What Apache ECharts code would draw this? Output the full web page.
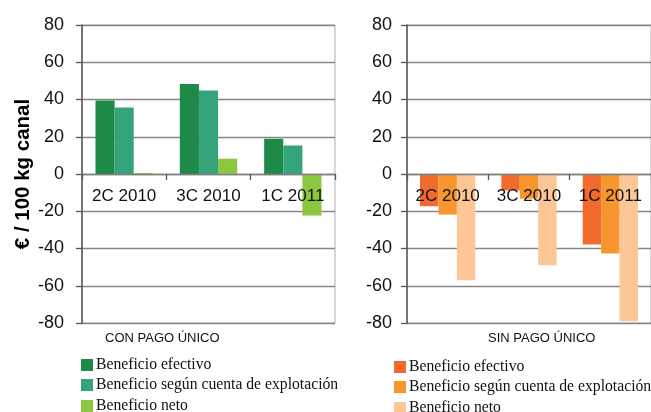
<!DOCTYPE html>
<html>
<head>
<meta charset="utf-8">
<script src="https://cdn.jsdelivr.net/npm/echarts@6/dist/echarts.min.js"></script>
<style>
  html, body { margin: 0; padding: 0; background: #fff; }
  #chart { width: 651px; height: 412px; }
</style>
</head>
<body>
<div id="chart"></div>
<script>
// datos
const categories = ['2C 2010', '3C 2010', '1C 2011'];
const seriesNames = ['Beneficio efectivo', 'Beneficio según cuenta de explotación', 'Beneficio neto'];
const panelTitles = ['CON PAGO ÚNICO', 'SIN PAGO ÚNICO'];

const conPagoEfectivo = [39.5, 48.3, 18.9];
const conPagoCuenta = [35.7, 44.8, 15.3];
const conPagoNeto = [0.5, 8.2, -22.3];

const sinPagoEfectivo = [-17.3, -8.8, -37.9];
const sinPagoCuenta = [-21.8, -13.2, -42.7];
const sinPagoNeto = [-57, -49, -79];

const yMin = -80, yMax = 80, yStep = 20;

const greens = ['#1d8a47', '#35a47a', '#8dc63f'];
const oranges = ['#f26b2e', '#f7962f', '#fdc697'];

const gridTop = 25, gridHeight = 298;
// eje de categorías sobre la línea del cero
const zeroOffset = -gridHeight * (0 - yMin) / (yMax - yMin);

const chart = echarts.init(document.getElementById('chart'));

function xAxisFor(idx) {
  return {
    type: 'category',
    gridIndex: idx,
    position: 'bottom',
    offset: zeroOffset,
    data: categories,
    z: 5,
    axisLine: { onZero: false, lineStyle: { color: '#808080', width: 1.3 } },
    axisTick: { show: true, alignWithLabel: false, length: 6, lineStyle: { color: '#555', width: 1.3 } },
    axisLabel: { interval: 0, hideOverlap: false, margin: 14, fontSize: 17, color: '#111', fontFamily: 'Liberation Sans, Arial' }
  };
}

function yAxisFor(idx, margin) {
  return {
    type: 'value',
    gridIndex: idx,
    min: yMin, max: yMax, interval: yStep,
    axisLine: { show: true, lineStyle: { color: '#555', width: 1.5 } },
    axisTick: { show: true, length: 6, lineStyle: { color: '#555', width: 1.3 } },
    splitLine: { lineStyle: { color: '#868686', width: 1.3 } },
    axisLabel: { margin: margin, fontSize: 18, color: '#111', fontFamily: 'Liberation Sans, Arial' }
  };
}

function barSeries(name, data, color, idx) {
  return {
    name: name,
    type: 'bar',
    xAxisIndex: idx,
    yAxisIndex: idx,
    data: data,
    barGap: '0%',
    barCategoryGap: '32%',
    itemStyle: { color: color },
    z: 2
  };
}

function legendItem(name, color, left, centerY) {
  return {
    left: left,
    top: centerY - 8,
    padding: 0,
    itemWidth: 12,
    itemHeight: 12,
    icon: 'rect',
    selectedMode: false,
    textStyle: { fontFamily: 'Liberation Serif, Times New Roman', fontSize: 15.7, color: '#111', padding: [0, 0, 0, -2] },
    data: [{ name: name, itemStyle: { color: color } }]
  };
}

const legendRowsLeft = [365, 385, 406];
const legendRowsRight = [367, 387, 408];

chart.setOption({
  animation: false,
  backgroundColor: '#fff',
  title: [
    { text: panelTitles[0], left: 105, top: 332, padding: 0,
      textStyle: { fontSize: 13, fontWeight: 'normal', color: '#111', fontFamily: 'Liberation Sans, Arial' } },
    { text: panelTitles[1], left: 488, top: 332, padding: 0,
      textStyle: { fontSize: 13, fontWeight: 'normal', color: '#111', fontFamily: 'Liberation Sans, Arial' } }
  ],
  grid: [
    { left: 82, top: gridTop, width: 253, height: gridHeight, show: true, borderColor: '#b0b0b0', borderWidth: 1 },
    { left: 407, top: gridTop, width: 253, height: gridHeight, show: true, borderColor: '#b0b0b0', borderWidth: 1 }
  ],
  legend: seriesNames.map((n, i) => legendItem(n, greens[i], 81, legendRowsLeft[i]))
    .concat(seriesNames.map((n, i) => legendItem(n, oranges[i], 394, legendRowsRight[i]))),
  xAxis: [xAxisFor(0), xAxisFor(1)],
  yAxis: [
    Object.assign(yAxisFor(0, 18), {
      name: '€ / 100 kg canal',
      nameLocation: 'middle',
      nameGap: 47,
      nameTextStyle: { fontSize: 20.5, fontWeight: 'bold', color: '#000', fontFamily: 'Liberation Sans, Arial' }
    }),
    yAxisFor(1, 15)
  ],
  series: [
    barSeries(seriesNames[0], conPagoEfectivo, greens[0], 0),
    barSeries(seriesNames[1], conPagoCuenta, greens[1], 0),
    barSeries(seriesNames[2], conPagoNeto, greens[2], 0),
    barSeries(seriesNames[0], sinPagoEfectivo, oranges[0], 1),
    barSeries(seriesNames[1], sinPagoCuenta, oranges[1], 1),
    barSeries(seriesNames[2], sinPagoNeto, oranges[2], 1)
  ]
});
</script>
</body>
</html>
